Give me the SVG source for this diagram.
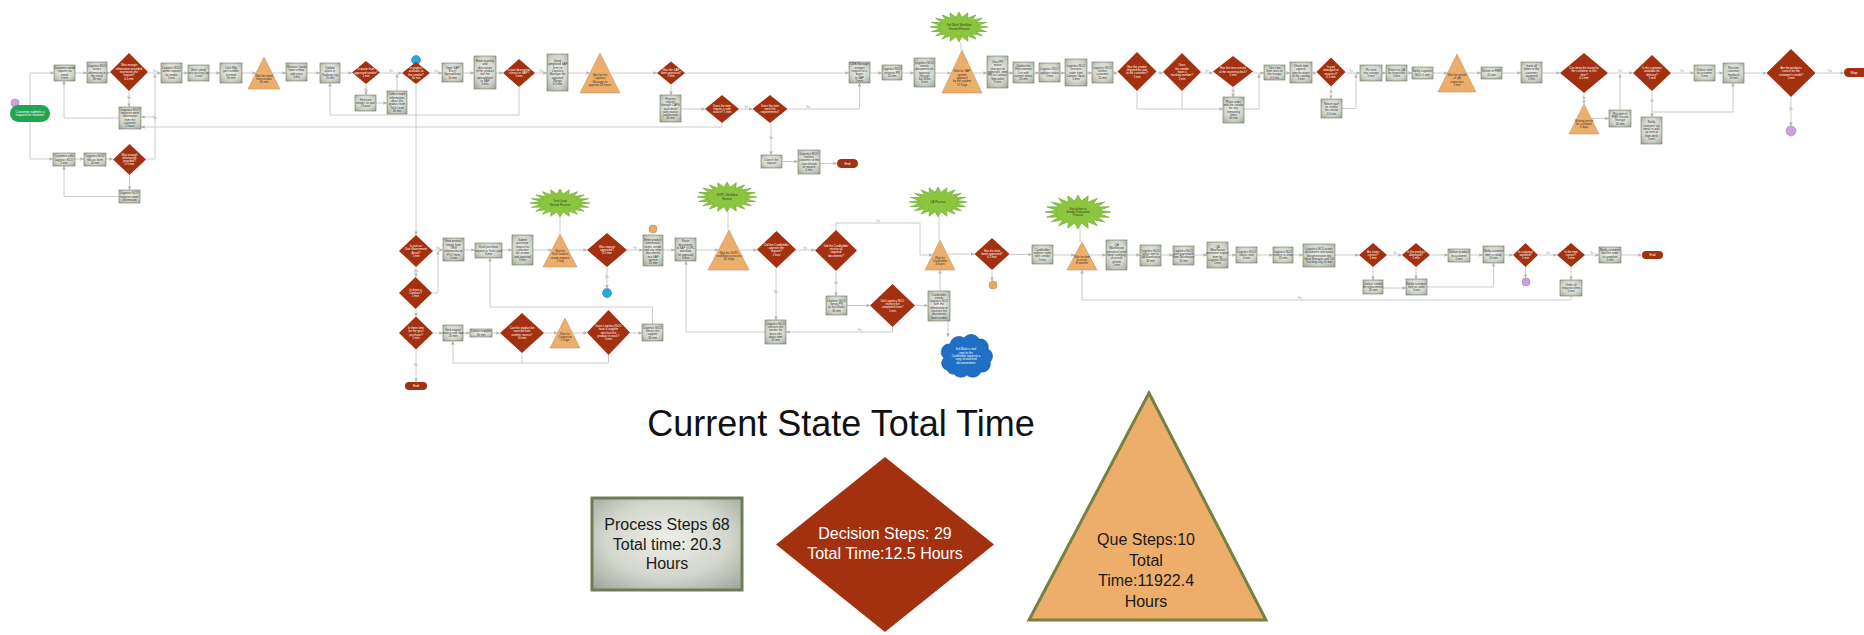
<svg xmlns="http://www.w3.org/2000/svg" xmlns:xlink="http://www.w3.org/1999/xlink" width="1864" height="635" viewBox="0 0 1864 635">
<defs>
<style>
.p{fill:url(#pg);stroke:#6d7a5c;stroke-width:.6}
.d{fill:#a3300f}
.q{fill:#eeae6b;stroke:#b38a58;stroke-width:.5}
.st{fill:#8cc63f;stroke:#6aa22c}
.e{fill:#a3300f}
.t{font-family:"Liberation Sans",Arial,sans-serif;font-size:2.9px;fill:#333;text-anchor:middle}
.w{fill:#fff}
.c{fill:none;stroke:#c6c6c6;stroke-width:.9;marker-end:url(#ah)}
.n{fill:none;stroke:#c6c6c6;stroke-width:.9}
.lbl{font-family:"Liberation Sans",Arial,sans-serif;font-size:2.6px;fill:#9a9a9a;text-anchor:middle}
.lg{font-family:"Liberation Sans",Arial,sans-serif;font-size:16px;text-anchor:middle}
</style>
<radialGradient id="pg" cx=".5" cy=".45" r=".75">
<stop offset="0" stop-color="#eeefea"/>
<stop offset=".55" stop-color="#d3d6cd"/>
<stop offset="1" stop-color="#9ca194"/>
</radialGradient>
<marker id="ah" viewBox="0 0 6 6" refX="6" refY="3" markerWidth="4" markerHeight="4" orient="auto">
<path d="M0,0 L6,3 L0,6z" fill="#b4b4b4"/>
</marker>
<polygon id="star" vector-effect="non-scaling-stroke" stroke-width=".6" points="1,0 .642,.102 .951,.309 .579,.295 .809,.588 .46,.46 .588,.809 .295,.579 .309,.951 .102,.642 0,1 -.102,.642 -.309,.951 -.295,.579 -.588,.809 -.46,.46 -.809,.588 -.579,.295 -.951,.309 -.642,.102 -1,0 -.642,-.102 -.951,-.309 -.579,-.295 -.809,-.588 -.46,-.46 -.588,-.809 -.295,-.579 -.309,-.951 -.102,-.642 0,-1 .102,-.642 .309,-.951 .295,-.579 .588,-.809 .46,-.46 .809,-.588 .579,-.295 .951,-.309 .642,-.102"/>
</defs>
<rect width="1864" height="635" fill="#fff"/>

<!-- connectors -->
<g id="connectors">
<!-- upper flow -->
<path class="c" d="M30,105 V73 H54"/>
<path class="c" d="M30,122 V159 H53"/>
<path class="c" d="M75,73 H87"/>
<path class="c" d="M107,73 H110"/>
<path class="c" d="M148,73 H161"/>
<path class="c" d="M182,73 H188"/>
<path class="c" d="M209,73 H220"/>
<path class="c" d="M242,73 H256"/>
<path class="c" d="M272,73 H286"/>
<path class="c" d="M307,73 H320"/>
<path class="c" d="M340,73 H352"/>
<path class="c" d="M380,73 H402"/>
<path class="c" d="M430,73 H442"/>
<path class="c" d="M463,73 H474"/>
<path class="c" d="M496,73 H503"/>
<path class="c" d="M535,73 H547"/>
<path class="c" d="M568,73 H590"/>
<path class="c" d="M610,73 H657"/>
<path class="c" d="M685,73 H849"/>
<path class="c" d="M870,73 H882"/>
<path class="c" d="M902,73 H914"/>
<path class="c" d="M935,73 H951"/>
<path class="c" d="M973,73 H987"/>
<path class="c" d="M1008,73 H1013"/>
<path class="c" d="M1034,73 H1039"/>
<path class="c" d="M1060,73 H1065"/>
<path class="c" d="M1087,73 H1092"/>
<path class="c" d="M1113,73 H1117.5"/>
<path class="c" d="M1156.5,73 H1163"/>
<path class="c" d="M1201,73 H1213"/>
<path class="c" d="M1253,73 H1264"/>
<path class="c" d="M1285,73 H1290"/>
<path class="c" d="M1312,73 H1316.5"/>
<path class="c" d="M1345.5,73 H1360"/>
<path class="c" d="M1382,73 H1386"/>
<path class="c" d="M1407,73 H1412"/>
<path class="c" d="M1433,73 H1447.5"/>
<path class="c" d="M1466.5,73 H1481"/>
<path class="c" d="M1502,73 H1521"/>
<path class="c" d="M1542,73 H1560"/>
<path class="c" d="M1608,73 H1633"/>
<path class="c" d="M1671,73 H1694"/>
<path class="c" d="M1715,73 H1723"/>
<path class="c" d="M1744,73 H1766.5"/>
<path class="c" d="M1815.5,73 H1844"/>
<path class="c" d="M129,91 V107"/>
<path class="c" d="M119,118 H64 V81"/>
<path class="c" d="M146,159 H155 V74"/>
<path class="c" d="M155,117 H141"/>
<path class="c" d="M722,123 V127 H141"/>
<path class="c" d="M75,159 H84"/>
<path class="c" d="M106,159 H113"/>
<path class="c" d="M129.5,175 V190"/>
<path class="c" d="M119,196.5 H64 V166"/>
<path class="c" d="M366,84 V95"/>
<path class="c" d="M376,103 H387"/>
<path class="c" d="M397,91 V74"/>
<path class="c" d="M416,84 V235"/>
<path class="c" d="M519,87 V115 H330 V83"/>
<path class="c" d="M671,84.5 V95"/>
<path class="c" d="M681,109 H705"/>
<path class="c" d="M739,109 H752.5"/>
<path class="c" d="M787.5,109 H859.5 V83"/>
<path class="c" d="M771,123 V155"/>
<path class="c" d="M782,161.5 H798"/>
<path class="c" d="M820,163.5 H837"/>
<path class="n" d="M961,42 V50"/>
<path class="n" d="M1137,91 V109 H1182 V91"/>
<path class="c" d="M1182,109 H1223"/>
<path class="c" d="M1233,87 V97"/>
<path class="c" d="M1244,109 H1259 V74"/>
<path class="c" d="M1331,86.5 V99"/>
<path class="c" d="M1342,108.5 H1356 V74"/>
<path class="c" d="M1584,93 V104"/>
<path class="c" d="M1591,118.5 H1609"/>
<path class="c" d="M1620,110 V74"/>
<path class="c" d="M1652,91 V117"/>
<path class="c" d="M1652,112 H1733 V83"/>
<path class="c" d="M1791,97 V126"/>
<!-- lower flow -->
<path class="c" d="M416,267 V277"/>
<path class="c" d="M416,309 V316.5"/>
<path class="c" d="M416,349.5 V382"/>
<path class="c" d="M432,293 H438 V251"/>
<path class="c" d="M433,250 H443"/>
<path class="c" d="M464,250 H475"/>
<path class="c" d="M502,250 H512"/>
<path class="c" d="M533,250 H552"/>
<path class="c" d="M568,250 H587"/>
<path class="c" d="M627,250 H643"/>
<path class="c" d="M663,250 H675"/>
<path class="c" d="M696,250 H718.5"/>
<path class="c" d="M739.5,250 H757"/>
<path class="c" d="M796,250 H815"/>
<path class="c" d="M607,267 V288.5"/>
<path class="n" d="M560,217 V234"/>
<path class="n" d="M728,212 V230"/>
<path class="n" d="M939,217 V240"/>
<path class="n" d="M1080,229 V242"/>
<path class="c" d="M765,332 H686 V261"/>
<path class="c" d="M776,268 V320"/>
<path class="c" d="M836,271 V296"/>
<path class="c" d="M847,305.5 H870"/>
<path class="c" d="M915,305.5 H928"/>
<path class="c" d="M892.5,327 V332 H786"/>
<path class="c" d="M940,291 V270"/>
<path class="c" d="M948,321 V337"/>
<path class="c" d="M836,230 V223 H920 V255 H932.5"/>
<path class="c" d="M947.5,254 H974.5"/>
<path class="c" d="M992,270 V281"/>
<path class="c" d="M1009.5,254.5 H1032"/>
<path class="c" d="M1053,255 H1075"/>
<path class="c" d="M1089,255 H1106"/>
<path class="c" d="M1127,255 H1140"/>
<path class="c" d="M1161,255 H1173"/>
<path class="c" d="M1194,255 H1207"/>
<path class="c" d="M1228,255 H1236"/>
<path class="c" d="M1257,255 H1273"/>
<path class="c" d="M1293,255 H1303"/>
<path class="c" d="M1335,255 H1359"/>
<path class="c" d="M1387,255 H1402"/>
<path class="c" d="M1430,255 H1448"/>
<path class="c" d="M1470,255 H1483"/>
<path class="c" d="M1504,255 H1513"/>
<path class="c" d="M1538,255 H1557"/>
<path class="c" d="M1585,255 H1599"/>
<path class="c" d="M1621,255 H1642"/>
<path class="c" d="M1571,296 V300 H1082 V270"/>
<path class="c" d="M1373,267 V280"/>
<path class="c" d="M1383,288 H1406"/>
<path class="c" d="M1416,267 V279"/>
<path class="c" d="M1427,287 H1493.5 V263"/>
<path class="c" d="M1525.5,267 V278"/>
<path class="c" d="M1571,267 V280"/>
<path class="c" d="M433,333 H443"/>
<path class="c" d="M463,333 H470"/>
<path class="c" d="M492,333 H500"/>
<path class="c" d="M544,333 H557.5"/>
<path class="c" d="M572.5,333 H587"/>
<path class="c" d="M630,333 H642"/>
<path class="c" d="M652.5,324 V307 H490 V258"/>
<path class="n" d="M522,353 V363"/>
<path class="c" d="M608.5,355 V363 H453 V341"/>
<!-- branch labels -->
<text class="lbl" x="155" y="72">Yes</text>
<text class="lbl" x="129" y="99">No</text>
<text class="lbl" x="155" y="118.5">No</text>
<text class="lbl" x="391" y="72">Yes</text>
<text class="lbl" x="366" y="91">No</text>
<text class="lbl" x="436" y="72">Yes</text>
<text class="lbl" x="541" y="72">Yes</text>
<text class="lbl" x="808" y="108">No</text>
<text class="lbl" x="746" y="108">Yes</text>
<text class="lbl" x="771" y="139">Yes</text>
<text class="lbl" x="1207" y="72">No</text>
<text class="lbl" x="1233" y="92">No</text>
<text class="lbl" x="1351" y="72">Yes</text>
<text class="lbl" x="1331" y="93">No</text>
<text class="lbl" x="1620" y="72">No</text>
<text class="lbl" x="1584" y="99">No</text>
<text class="lbl" x="1682" y="72">Yes</text>
<text class="lbl" x="1652" y="102">No</text>
<text class="lbl" x="1830" y="72">Yes</text>
<text class="lbl" x="1791" y="110">No</text>
<text class="lbl" x="438" y="249">Yes</text>
<text class="lbl" x="416" y="272">No</text>
<text class="lbl" x="416" y="366">No</text>
<text class="lbl" x="607" y="278">No</text>
<text class="lbl" x="635" y="249">Yes</text>
<text class="lbl" x="805" y="249">Yes</text>
<text class="lbl" x="776" y="293">No</text>
<text class="lbl" x="836" y="284">No</text>
<text class="lbl" x="878" y="222">Yes</text>
<text class="lbl" x="860" y="331">No</text>
<text class="lbl" x="1395" y="254">No</text>
<text class="lbl" x="1548" y="254">Yes</text>
<text class="lbl" x="1592" y="254">Yes</text>
<text class="lbl" x="522" y="332">No</text>
<text class="lbl" x="1300" y="299">No</text>
</g>

<!-- upper process row -->
<g id="start"><circle cx="15" cy="103" r="4" fill="#c9a3da" stroke="#a47cc0" stroke-width=".6"/><rect x="10" y="105" width="40" height="17" rx="8.5" fill="#1fa650"/><text class="t w" x="30" y="112.6" style="font-size:3.3px"><tspan x="30">Customer submits a</tspan><tspan x="30" dy="3.8">request for fastener</tspan></text></g>
<g id="n1"><rect class="p" x="54" y="65" width="21" height="16"/><text class="t" x="64.5" y="69"><tspan x="64.5">Customer sends</tspan><tspan x="64.5" dy="3.3">request via</tspan><tspan x="64.5" dy="3.3">email</tspan><tspan x="64.5" dy="3.3">5 min</tspan></text></g>
<g id="n2"><rect class="p" x="87" y="62" width="20" height="21"/><text class="t" x="97" y="66.9"><tspan x="97">Logistics NCO</tspan><tspan x="97" dy="3.3">enters</tspan><tspan x="97" dy="3.3">information in</tspan><tspan x="97" dy="3.3">the email</tspan><tspan x="97" dy="3.3">30 min</tspan></text></g>
<g id="d1"><polygon class="d" points="129,53 148,72 129,91 110,72"/><text class="t w" x="129" y="66.4"><tspan x="129">Was enough</tspan><tspan x="129" dy="3.3">information provided</tspan><tspan x="129" dy="3.3">to process the</tspan><tspan x="129" dy="3.3">request?</tspan><tspan x="129" dy="3.3">0.5 min</tspan></text></g>
<g id="n3"><rect class="p" x="119" y="107" width="22" height="22"/><text class="t" x="130" y="110.8"><tspan x="130">Logistics NCO</tspan><tspan x="130" dy="3.3">requests more</tspan><tspan x="130" dy="3.3">information</tspan><tspan x="130" dy="3.3">from the</tspan><tspan x="130" dy="3.3">customer</tspan><tspan x="130" dy="3.3">2 hours</tspan></text></g>
<g id="n4"><rect class="p" x="53" y="153" width="22" height="13"/><text class="t" x="64" y="157.2"><tspan x="64">Customer calls</tspan><tspan x="64" dy="3.3">Logistics NCO</tspan><tspan x="64" dy="3.3">5 min</tspan></text></g>
<g id="n5"><rect class="p" x="84" y="153" width="22" height="13"/><text class="t" x="95" y="157.2"><tspan x="95">Logistics NCO</tspan><tspan x="95" dy="3.3">fills out form</tspan><tspan x="95" dy="3.3">10 min</tspan></text></g>
<g id="d2"><polygon class="d" points="129.5,144 146,159.5 129.5,175 113,159.5"/><text class="t w" x="129.5" y="155.5"><tspan x="129.5">Was enough</tspan><tspan x="129.5" dy="3.3">information</tspan><tspan x="129.5" dy="3.3">provided?</tspan><tspan x="129.5" dy="3.3">0.5 min</tspan></text></g>
<g id="n6"><rect class="p" x="119" y="190" width="21" height="13"/><text class="t" x="129.5" y="194.2"><tspan x="129.5">Logistics NCO</tspan><tspan x="129.5" dy="3.3">requests more</tspan><tspan x="129.5" dy="3.3">information</tspan></text></g>
<g id="n7"><rect class="p" x="161" y="63" width="21" height="20"/><text class="t" x="171.5" y="69"><tspan x="171.5">Logistics NCO</tspan><tspan x="171.5" dy="3.3">sends request</tspan><tspan x="171.5" dy="3.3">to vendor</tspan><tspan x="171.5" dy="3.3">5 min</tspan></text></g>
<g id="n8"><rect class="p" x="188" y="65" width="21" height="16"/><text class="t" x="198.5" y="70.7"><tspan x="198.5">Enter email</tspan><tspan x="198.5" dy="3.3">into tracking log</tspan><tspan x="198.5" dy="3.3">1 min</tspan></text></g>
<g id="n9"><rect class="p" x="220" y="63" width="22" height="20"/><text class="t" x="231" y="69"><tspan x="231">Click Mfg</tspan><tspan x="231" dy="3.3">part number</tspan><tspan x="231" dy="3.3">in email</tspan><tspan x="231" dy="3.3">20 min</tspan></text></g>
<g id="q1"><polygon class="q" points="264,57 280,89 248,89"/><text class="t" x="264" y="76.7"><tspan x="264">Wait for email</tspan><tspan x="264" dy="3.3">from vendor</tspan><tspan x="264" dy="3.3">60 min</tspan></text></g>
<g id="n10"><rect class="p" x="286" y="63" width="21" height="18"/><text class="t" x="296.5" y="68"><tspan x="296.5">Receive Quote</tspan><tspan x="296.5" dy="3.3">from vendor</tspan><tspan x="296.5" dy="3.3">with price</tspan><tspan x="296.5" dy="3.3">5 min</tspan></text></g>
<g id="n11"><rect class="p" x="320" y="63" width="20" height="20"/><text class="t" x="330" y="69"><tspan x="330">Update</tspan><tspan x="330" dy="3.3">quote in</tspan><tspan x="330" dy="3.3">Tracking Log</tspan><tspan x="330" dy="3.3">15 min</tspan></text></g>
<g id="d3"><polygon class="d" points="366,61 380,72.5 366,84 352,72.5"/><text class="t w" x="366" y="70.2"><tspan x="366">Is quote from</tspan><tspan x="366" dy="3.3">approved vendor?</tspan><tspan x="366" dy="3.3">1 min</tspan></text></g>
<g id="n12"><rect class="p" x="355" y="95" width="21" height="16"/><text class="t" x="365.5" y="100.7"><tspan x="365.5">Find new</tspan><tspan x="365.5" dy="3.3">vendor for part</tspan><tspan x="365.5" dy="3.3">2 hours</tspan></text></g>
<g id="n13"><rect class="p" x="387" y="91" width="20" height="23"/><text class="t" x="397" y="95.3"><tspan x="397">Collect more</tspan><tspan x="397" dy="3.3">information</tspan><tspan x="397" dy="3.3">about the</tspan><tspan x="397" dy="3.3">product from</tspan><tspan x="397" dy="3.3">Tech Lead</tspan><tspan x="397" dy="3.3">30 min</tspan></text></g>
<g id="d4"><circle cx="416" cy="60" r="4.5" fill="#2aa7df" stroke="#1b88c0" stroke-width=".6"/><polygon class="d" points="416,62 430,73 416,84 402,73"/><text class="t w" x="416" y="69"><tspan x="416">Is product</tspan><tspan x="416" dy="3.3">available at</tspan><tspan x="416" dy="3.3">the vendor?</tspan><tspan x="416" dy="3.3">30 min</tspan></text></g>
<g id="n14"><rect class="p" x="442" y="63" width="21" height="19"/><text class="t" x="452.5" y="68.6"><tspan x="452.5">Open SAP</tspan><tspan x="452.5" dy="3.3">Excel</tspan><tspan x="452.5" dy="3.3">Spreadsheet</tspan><tspan x="452.5" dy="3.3">10 min</tspan></text></g>
<g id="n15"><rect class="p" x="474" y="56" width="22" height="33"/><text class="t" x="485" y="62"><tspan x="485">Enter quantity</tspan><tspan x="485" dy="3.3">and</tspan><tspan x="485" dy="3.3">description</tspan><tspan x="485" dy="3.3">of the product</tspan><tspan x="485" dy="3.3">into the</tspan><tspan x="485" dy="3.3">spreadsheet</tspan><tspan x="485" dy="3.3">in SAP</tspan><tspan x="485" dy="3.3">5 min</tspan></text></g>
<g id="d5"><polygon class="d" points="519,59 535,73 519,87 503,73"/><text class="t w" x="519" y="70.7"><tspan x="519">Is part description</tspan><tspan x="519" dy="3.3">correct in SAP?</tspan><tspan x="519" dy="3.3">5 min</tspan></text></g>
<g id="n16"><rect class="p" x="547" y="54" width="21" height="37"/><text class="t" x="557.5" y="62"><tspan x="557.5">Send</tspan><tspan x="557.5" dy="3.3">completed SAP</tspan><tspan x="557.5" dy="3.3">form to</tspan><tspan x="557.5" dy="3.3">Logistics</tspan><tspan x="557.5" dy="3.3">Manager for</tspan><tspan x="557.5" dy="3.3">approval</tspan><tspan x="557.5" dy="3.3">Range</tspan><tspan x="557.5" dy="3.3">0.5 min</tspan></text></g>
<g id="q2"><polygon class="q" points="600,53 620,93 580,93"/><text class="t" x="600" y="76"><tspan x="600">Wait for the</tspan><tspan x="600" dy="3.3">Logistics</tspan><tspan x="600" dy="3.3">Manager to</tspan><tspan x="600" dy="3.3">approve 24 hours</tspan></text></g>
<g id="d6"><polygon class="d" points="671,61.5 685,73 671,84.5 657,73"/><text class="t w" x="671" y="70.7"><tspan x="671">Was the SAP</tspan><tspan x="671" dy="3.3">form approved?</tspan><tspan x="671" dy="3.3">1 min</tspan></text></g>
<g id="n17"><rect class="p" x="660" y="95" width="21" height="27"/><text class="t" x="670.5" y="99.6"><tspan x="670.5">Process</tspan><tspan x="670.5" dy="3.3">request</tspan><tspan x="670.5" dy="3.3">through CAPS</tspan><tspan x="670.5" dy="3.3">and obtain</tspan><tspan x="670.5" dy="3.3">sole source</tspan><tspan x="670.5" dy="3.3">justification</tspan><tspan x="670.5" dy="3.3">30 min</tspan></text></g>
<g id="d7"><polygon class="d" points="722,95 739,109 722,123 705,109"/><text class="t w" x="722" y="106.7"><tspan x="722">Does the item</tspan><tspan x="722" dy="3.3">require a sole</tspan><tspan x="722" dy="3.3">source? 1 min</tspan></text></g>
<g id="d8"><polygon class="d" points="770,95 787.5,109 770,123 752.5,109"/><text class="t w" x="770" y="106.7"><tspan x="770">Does the item</tspan><tspan x="770" dy="3.3">meet the</tspan><tspan x="770" dy="3.3">requirements?</tspan></text></g>
<g id="n18"><rect class="p" x="761" y="155" width="21" height="13"/><text class="t" x="771.5" y="160.9"><tspan x="771.5">Cancel the</tspan><tspan x="771.5" dy="3.3">request</tspan></text></g>
<g id="n19"><rect class="p" x="798" y="150" width="22" height="24"/><text class="t" x="809" y="154.8"><tspan x="809">Logistics NCO</tspan><tspan x="809" dy="3.3">notifies</tspan><tspan x="809" dy="3.3">customer of the</tspan><tspan x="809" dy="3.3">cancellation</tspan><tspan x="809" dy="3.3">of request</tspan><tspan x="809" dy="3.3">5 min</tspan></text></g>
<g id="end1"><rect class="e" x="837" y="159" width="21" height="9" rx="4.5"/><text class="t w" x="847.5" y="164.8" style="font-size:3.4px">End</text></g>
<g id="n20"><rect class="p" x="849" y="62" width="21" height="21"/><text class="t" x="859.5" y="65.3"><tspan x="859.5">CMB Manager</tspan><tspan x="859.5" dy="3.3">assigns</tspan><tspan x="859.5" dy="3.3">request to a</tspan><tspan x="859.5" dy="3.3">buyer</tspan><tspan x="859.5" dy="3.3">in SAP</tspan><tspan x="859.5" dy="3.3">5 min</tspan></text></g>
<g id="n21"><rect class="p" x="882" y="65" width="20" height="15"/><text class="t" x="892" y="70.2"><tspan x="892">Logistics NCO</tspan><tspan x="892" dy="3.3">receives PR</tspan><tspan x="892" dy="3.3">10 min</tspan></text></g>
<g id="n22"><rect class="p" x="914" y="58" width="21" height="29"/><text class="t" x="924.5" y="63.6"><tspan x="924.5">Logistics NCO</tspan><tspan x="924.5" dy="3.3">emails</tspan><tspan x="924.5" dy="3.3">documents for</tspan><tspan x="924.5" dy="3.3">approval</tspan><tspan x="924.5" dy="3.3">through</tspan><tspan x="924.5" dy="3.3">Sol-Work</tspan><tspan x="924.5" dy="3.3">5 min</tspan></text></g>
<g id="s1"><use xlink:href="#star" class="st" transform="translate(959,27) scale(29,15)"/><text class="t" x="959" y="26.4"><tspan x="959">Sol-Work Workflow</tspan><tspan x="959" dy="3.3">Review Process</tspan></text></g>
<g id="q3"><polygon class="q" points="962,50 982,93 942,93"/><text class="t" x="962" y="72.4"><tspan x="962">Wait for SAP</tspan><tspan x="962" dy="3.3">system</tspan><tspan x="962" dy="3.3">approval</tspan><tspan x="962" dy="3.3">by the system</tspan><tspan x="962" dy="3.3">72 Days</tspan></text></g>
<g id="n23"><rect class="p" x="987" y="56" width="21" height="32"/><text class="t" x="997.5" y="63.1"><tspan x="997.5">Once PR</tspan><tspan x="997.5" dy="3.3">status</tspan><tspan x="997.5" dy="3.3">changes to</tspan><tspan x="997.5" dy="3.3">approved, send</tspan><tspan x="997.5" dy="3.3">PR to Contract</tspan><tspan x="997.5" dy="3.3">Specialist</tspan><tspan x="997.5" dy="3.3">5 min</tspan></text></g>
<g id="n24"><rect class="p" x="1013" y="62" width="21" height="21"/><text class="t" x="1023.5" y="66.9"><tspan x="1023.5">Update the</tspan><tspan x="1023.5" dy="3.3">Procurement</tspan><tspan x="1023.5" dy="3.3">List with</tspan><tspan x="1023.5" dy="3.3">current status</tspan><tspan x="1023.5" dy="3.3">20 min</tspan></text></g>
<g id="n25"><rect class="p" x="1039" y="63" width="21" height="19"/><text class="t" x="1049.5" y="70.2"><tspan x="1049.5">Logistics NCO</tspan><tspan x="1049.5" dy="3.3">updates status</tspan><tspan x="1049.5" dy="3.3">5 min</tspan></text></g>
<g id="n26"><rect class="p" x="1065" y="59" width="22" height="27"/><text class="t" x="1076" y="66.9"><tspan x="1076">Logistics NCO</tspan><tspan x="1076" dy="3.3">receives</tspan><tspan x="1076" dy="3.3">order from</tspan><tspan x="1076" dy="3.3">Contract Spec.</tspan><tspan x="1076" dy="3.3">5 min</tspan></text></g>
<g id="n27"><rect class="p" x="1092" y="62" width="21" height="21"/><text class="t" x="1102.5" y="68.6"><tspan x="1102.5">Logistics NCO</tspan><tspan x="1102.5" dy="3.3">notifies</tspan><tspan x="1102.5" dy="3.3">customer</tspan><tspan x="1102.5" dy="3.3">15 min</tspan></text></g>
<g id="d9"><polygon class="d" points="1137,52 1156.5,71.5 1137,91 1117.5,71.5"/><text class="t w" x="1137" y="67.6"><tspan x="1137">Has the vendor</tspan><tspan x="1137" dy="3.3">shipped the part</tspan><tspan x="1137" dy="3.3">to the customer?</tspan><tspan x="1137" dy="3.3">1 min</tspan></text></g>
<g id="d10"><polygon class="d" points="1182,53 1201,72 1182,91 1163,72"/><text class="t w" x="1182" y="66.4"><tspan x="1182">Does</tspan><tspan x="1182" dy="3.3">the vendor</tspan><tspan x="1182" dy="3.3">have a</tspan><tspan x="1182" dy="3.3">tracking number?</tspan><tspan x="1182" dy="3.3">1 min</tspan></text></g>
<g id="d11"><polygon class="d" points="1233,56 1253,71.5 1233,87 1213,71.5"/><text class="t w" x="1233" y="69.2"><tspan x="1233">Has the item arrived</tspan><tspan x="1233" dy="3.3">at the receiving dock?</tspan><tspan x="1233" dy="3.3">1 min</tspan></text></g>
<g id="n28"><rect class="p" x="1223" y="97" width="21" height="26"/><text class="t" x="1233.5" y="102.8"><tspan x="1233.5">Place order</tspan><tspan x="1233.5" dy="3.3">with the vendor</tspan><tspan x="1233.5" dy="3.3">for any</tspan><tspan x="1233.5" dy="3.3">remaining</tspan><tspan x="1233.5" dy="3.3">items</tspan><tspan x="1233.5" dy="3.3">60 min</tspan></text></g>
<g id="n29"><rect class="p" x="1264" y="65" width="21" height="15"/><text class="t" x="1274.5" y="68.6"><tspan x="1274.5">Take item</tspan><tspan x="1274.5" dy="3.3">from dock to</tspan><tspan x="1274.5" dy="3.3">the hangar</tspan><tspan x="1274.5" dy="3.3">2.5 hrs</tspan></text></g>
<g id="n30"><rect class="p" x="1290" y="62" width="22" height="21"/><text class="t" x="1301" y="66.9"><tspan x="1301">Check item</tspan><tspan x="1301" dy="3.3">against</tspan><tspan x="1301" dy="3.3">specifications</tspan><tspan x="1301" dy="3.3">in the catalog</tspan><tspan x="1301" dy="3.3">5 min</tspan></text></g>
<g id="d12"><polygon class="d" points="1331,57.5 1345.5,72 1331,86.5 1316.5,72"/><text class="t w" x="1331" y="68.1"><tspan x="1331">Is part</tspan><tspan x="1331" dy="3.3">damaged or</tspan><tspan x="1331" dy="3.3">incorrect?</tspan><tspan x="1331" dy="3.3">0.5 min</tspan></text></g>
<g id="n31"><rect class="p" x="1321" y="99" width="21" height="19"/><text class="t" x="1331.5" y="104.6"><tspan x="1331.5">Return part</tspan><tspan x="1331.5" dy="3.3">to vendor</tspan><tspan x="1331.5" dy="3.3">for refund</tspan><tspan x="1331.5" dy="3.3">0.5 min</tspan></text></g>
<g id="n32"><rect class="p" x="1360" y="65" width="22" height="16"/><text class="t" x="1371" y="70.7"><tspan x="1371">Put item</tspan><tspan x="1371" dy="3.3">into storage</tspan><tspan x="1371" dy="3.3">5 min</tspan></text></g>
<g id="n33"><rect class="p" x="1386" y="65" width="21" height="16"/><text class="t" x="1396.5" y="70.7"><tspan x="1396.5">Return to QA</tspan><tspan x="1396.5" dy="3.3">for inspection</tspan><tspan x="1396.5" dy="3.3">5 min</tspan></text></g>
<g id="n34"><rect class="p" x="1412" y="67" width="21" height="12"/><text class="t" x="1422.5" y="72.4"><tspan x="1422.5">Notify Logistics</tspan><tspan x="1422.5" dy="3.3">NCO 1 min</tspan></text></g>
<g id="q4"><polygon class="q" points="1457,54 1476,92 1438,92"/><text class="t" x="1457" y="76"><tspan x="1457">Wait for results</tspan><tspan x="1457" dy="3.3">of QA</tspan><tspan x="1457" dy="3.3">inspection</tspan><tspan x="1457" dy="3.3">5 min</tspan></text></g>
<g id="n35"><rect class="p" x="1481" y="67" width="21" height="12"/><text class="t" x="1491.5" y="72.4"><tspan x="1491.5">Return to PMR</tspan><tspan x="1491.5" dy="3.3">20 min</tspan></text></g>
<g id="n36"><rect class="p" x="1521" y="62" width="21" height="21"/><text class="t" x="1531.5" y="66.9"><tspan x="1531.5">Issue all</tspan><tspan x="1531.5" dy="3.3">items to the</tspan><tspan x="1531.5" dy="3.3">customer</tspan><tspan x="1531.5" dy="3.3">assigned</tspan><tspan x="1531.5" dy="3.3">5 min</tspan></text></g>
<g id="d13"><polygon class="d" points="1584,53 1608,73 1584,93 1560,73"/><text class="t w" x="1584" y="69"><tspan x="1584">Can items be issued to</tspan><tspan x="1584" dy="3.3">the customer at this</tspan><tspan x="1584" dy="3.3">time?</tspan><tspan x="1584" dy="3.3">0.5 min</tspan></text></g>
<g id="q5"><polygon class="q" points="1584,104 1599,134 1569,134"/><text class="t" x="1584" y="121.7"><tspan x="1584">Waiting period</tspan><tspan x="1584" dy="3.3">for customer</tspan><tspan x="1584" dy="3.3">3 days</tspan></text></g>
<g id="n37"><rect class="p" x="1609" y="110" width="22" height="17"/><text class="t" x="1620" y="114.6"><tspan x="1620">Put item in</tspan><tspan x="1620" dy="3.3">PMR Secure</tspan><tspan x="1620" dy="3.3">Storage</tspan><tspan x="1620" dy="3.3">10 min</tspan></text></g>
<g id="d14"><polygon class="d" points="1652,55 1671,73 1652,91 1633,73"/><text class="t w" x="1652" y="69"><tspan x="1652">Is the customer</tspan><tspan x="1652" dy="3.3">available for</tspan><tspan x="1652" dy="3.3">delivery?</tspan><tspan x="1652" dy="3.3">1 min</tspan></text></g>
<g id="n38"><rect class="p" x="1641" y="117" width="21" height="27"/><text class="t" x="1651.5" y="123.3"><tspan x="1651.5">Notify</tspan><tspan x="1651.5" dy="3.3">customer via</tspan><tspan x="1651.5" dy="3.3">email to pick</tspan><tspan x="1651.5" dy="3.3">up item at</tspan><tspan x="1651.5" dy="3.3">front desk</tspan><tspan x="1651.5" dy="3.3">5 min</tspan></text></g>
<g id="n39"><rect class="p" x="1694" y="65" width="21" height="16"/><text class="t" x="1704.5" y="70.7"><tspan x="1704.5">Deliver item</tspan><tspan x="1704.5" dy="3.3">to customer</tspan><tspan x="1704.5" dy="3.3">5 min</tspan></text></g>
<g id="n40"><rect class="p" x="1723" y="63" width="21" height="20"/><text class="t" x="1733.5" y="69"><tspan x="1733.5">Receive</tspan><tspan x="1733.5" dy="3.3">customer</tspan><tspan x="1733.5" dy="3.3">feedback</tspan><tspan x="1733.5" dy="3.3">10 min</tspan></text></g>
<g id="d15"><polygon class="d" points="1791,49 1815.5,73 1791,97 1766.5,73"/><text class="t w" x="1791" y="69"><tspan x="1791">Are the products</tspan><tspan x="1791" dy="3.3">correct for the</tspan><tspan x="1791" dy="3.3">customer's needs?</tspan><tspan x="1791" dy="3.3">1 min</tspan></text></g>
<g id="c1"><circle cx="1791" cy="131" r="5" fill="#c9a3da" stroke="#a47cc0" stroke-width=".6"/></g>
<g id="stop"><rect class="e" x="1844" y="68" width="24" height="9" rx="4.5"/><text class="t w" x="1854" y="73.8" style="font-size:3.4px">Stop</text></g>

<!-- lower process rows -->
<g id="d16"><polygon class="d" points="416,235 433,251 416,267 399,251"/><text class="t w" x="416" y="247"><tspan x="416">Is part an</tspan><tspan x="416" dy="3.3">Unit Government</tspan><tspan x="416" dy="3.3">Asset?</tspan><tspan x="416" dy="3.3">1 min</tspan></text></g>
<g id="d17"><polygon class="d" points="415.5,277 432,293 415.5,309 399,293"/><text class="t w" x="415.5" y="290.7"><tspan x="415.5">Is there a</tspan><tspan x="415.5" dy="3.3">Contract?</tspan><tspan x="415.5" dy="3.3">1 min</tspan></text></g>
<g id="d18"><polygon class="d" points="416,316.5 433,333 416,349.5 399,333"/><text class="t w" x="416" y="329"><tspan x="416">Is there time</tspan><tspan x="416" dy="3.3">for the gov't</tspan><tspan x="416" dy="3.3">purchase?</tspan><tspan x="416" dy="3.3">1 min</tspan></text></g>
<g id="end2"><rect class="e" x="405" y="382" width="22" height="8" rx="4"/><text class="t w" x="416" y="387.2" style="font-size:3.4px">End</text></g>
<g id="n41"><rect class="p" x="443" y="238" width="21" height="23"/><text class="t" x="453.5" y="242.3"><tspan x="453.5">Find product</tspan><tspan x="453.5" dy="3.3">image from</tspan><tspan x="453.5" dy="3.3">OEM</tspan><tspan x="453.5" dy="3.3">information on</tspan><tspan x="453.5" dy="3.3">PCO form</tspan><tspan x="453.5" dy="3.3">1 min</tspan></text></g>
<g id="n42"><rect class="p" x="475" y="243" width="27" height="15"/><text class="t" x="488.5" y="248.2"><tspan x="488.5">Draft purchase</tspan><tspan x="488.5" dy="3.3">request to Tech Lead</tspan><tspan x="488.5" dy="3.3">5 min</tspan></text></g>
<g id="n43"><rect class="p" x="512" y="235" width="21" height="30"/><text class="t" x="522.5" y="241.1"><tspan x="522.5">Submit</tspan><tspan x="522.5" dy="3.3">purchase</tspan><tspan x="522.5" dy="3.3">request to</tspan><tspan x="522.5" dy="3.3">customer</tspan><tspan x="522.5" dy="3.3">for review</tspan><tspan x="522.5" dy="3.3">and approval</tspan><tspan x="522.5" dy="3.3">5 min</tspan></text></g>
<g id="s2"><use xlink:href="#star" class="st" transform="translate(560,203) scale(30,14)"/><text class="t" x="560" y="202.4"><tspan x="560">Tech Lead</tspan><tspan x="560" dy="3.3">Review Process</tspan></text></g>
<g id="q6"><polygon class="q" points="560,234 577,267 543,267"/><text class="t" x="560" y="252"><tspan x="560">Wait for</tspan><tspan x="560" dy="3.3">Tech Lead to</tspan><tspan x="560" dy="3.3">review request</tspan><tspan x="560" dy="3.3">1 Day</tspan></text></g>
<g id="d19"><polygon class="d" points="607,233 627,250 607,267 587,250"/><text class="t w" x="607" y="247.7"><tspan x="607">Was request</tspan><tspan x="607" dy="3.3">approved?</tspan><tspan x="607" dy="3.3">0.5 min</tspan></text></g>
<g id="c2"><circle cx="607" cy="293" r="4.5" fill="#2aa7df" stroke="#1b88c0" stroke-width=".6"/></g>
<g id="n44"><circle cx="653" cy="229" r="4" fill="#eaa868" stroke="#c48a52" stroke-width=".6"/><rect class="p" x="643" y="235" width="20" height="31"/><text class="t" x="653" y="241"><tspan x="653">Enter product</tspan><tspan x="653" dy="3.3">information,</tspan><tspan x="653" dy="3.3">costs, vendor</tspan><tspan x="653" dy="3.3">and any other</tspan><tspan x="653" dy="3.3">documents</tspan><tspan x="653" dy="3.3">into SAP</tspan><tspan x="653" dy="3.3">system</tspan><tspan x="653" dy="3.3">15 min</tspan></text></g>
<g id="n45"><rect class="p" x="675" y="238" width="21" height="23"/><text class="t" x="685.5" y="242.3"><tspan x="685.5">Route</tspan><tspan x="685.5" dy="3.3">documents</tspan><tspan x="685.5" dy="3.3">to SAP GCPC</tspan><tspan x="685.5" dy="3.3">workflow</tspan><tspan x="685.5" dy="3.3">for approval</tspan><tspan x="685.5" dy="3.3">5 min</tspan></text></g>
<g id="s3"><use xlink:href="#star" class="st" transform="translate(727,197) scale(30,15)"/><text class="t" x="727" y="196.4"><tspan x="727">GCPC Workflow</tspan><tspan x="727" dy="3.3">Review</tspan></text></g>
<g id="q7"><polygon class="q" points="729,230 749,270 708,270"/><text class="t" x="729" y="253.7"><tspan x="729">Wait for GCPC</tspan><tspan x="729" dy="3.3">workflow to process</tspan><tspan x="729" dy="3.3">41 Days</tspan></text></g>
<g id="d20"><polygon class="d" points="776.5,231 796,249.5 776.5,268 757,249.5"/><text class="t w" x="776.5" y="245.6"><tspan x="776.5">Did the Cardholder</tspan><tspan x="776.5" dy="3.3">approve the</tspan><tspan x="776.5" dy="3.3">request?</tspan><tspan x="776.5" dy="3.3">1 hour</tspan></text></g>
<g id="d21"><polygon class="d" points="836,230 857,250.5 836,271 815,250.5"/><text class="t w" x="836" y="246.6"><tspan x="836">Did the Cardholder</tspan><tspan x="836" dy="3.3">receive all</tspan><tspan x="836" dy="3.3">required</tspan><tspan x="836" dy="3.3">documents?</tspan></text></g>
<g id="n46"><rect class="p" x="826" y="296" width="21" height="19"/><text class="t" x="836.5" y="301.6"><tspan x="836.5">Logistics NCO</tspan><tspan x="836.5" dy="3.3">sends PR</tspan><tspan x="836.5" dy="3.3">to Sol-Works</tspan><tspan x="836.5" dy="3.3">30 min</tspan></text></g>
<g id="d22"><polygon class="d" points="892.5,284 915,305.5 892.5,327 870,305.5"/><text class="t w" x="892.5" y="301.6"><tspan x="892.5">Did Logistics NCO</tspan><tspan x="892.5" dy="3.3">receive the</tspan><tspan x="892.5" dy="3.3">completed form?</tspan><tspan x="892.5" dy="3.3">1 min</tspan></text></g>
<g id="n47"><rect class="p" x="928" y="291" width="22" height="30"/><text class="t" x="939" y="295.5"><tspan x="939">Cardholder</tspan><tspan x="939" dy="3.3">emails</tspan><tspan x="939" dy="3.3">Logistics NCO</tspan><tspan x="939" dy="3.3">with the</tspan><tspan x="939" dy="3.3">information or</tspan><tspan x="939" dy="3.3">receives the</tspan><tspan x="939" dy="3.3">documents</tspan><tspan x="939" dy="3.3">from vendor</tspan></text></g>
<g id="cloud"><path d="M947,370 a7,7 0 0 1 -3,-12 a8,8 0 0 1 6,-14 a9,9 0 0 1 14,-6 a9,9 0 0 1 15,1 a8,8 0 0 1 9,10 a8,8 0 0 1 2,13 a8,8 0 0 1 -9,10 a9,9 0 0 1 -14,3 a9,9 0 0 1 -13,-1 a7,7 0 0 1 -7,-4 z" fill="#1f6fc5" stroke="#17509a" stroke-width=".6"/><text class="t w" x="966" y="350.4"><tspan x="966">Sol-Work e-mail</tspan><tspan x="966" dy="3.3">sent to the</tspan><tspan x="966" dy="3.3">Cardholder requests a</tspan><tspan x="966" dy="3.3">copy of attached</tspan><tspan x="966" dy="3.3">documentation</tspan></text></g>
<g id="s4"><use xlink:href="#star" class="st" transform="translate(938,202) scale(29,15)"/><text class="t" x="938" y="203">QA Process</text></g>
<g id="q8"><polygon class="q" points="940,240 955,270 925,270"/><text class="t" x="940" y="258.7"><tspan x="940">Wait for</tspan><tspan x="940" dy="3.3">Cardholder</tspan><tspan x="940" dy="3.3">4 hours</tspan></text></g>
<g id="d23"><polygon class="d" points="992,238 1009.5,254 992,270 974.5,254"/><text class="t w" x="992" y="251.7"><tspan x="992">Has the item</tspan><tspan x="992" dy="3.3">been approved?</tspan><tspan x="992" dy="3.3">0.5 min</tspan></text></g>
<g id="c3"><circle cx="993" cy="285" r="4" fill="#eaa868" stroke="#c48a52" stroke-width=".6"/></g>
<g id="n48"><rect class="p" x="765" y="320" width="21" height="24"/><text class="t" x="775.5" y="324.8"><tspan x="775.5">Logistics NCO</tspan><tspan x="775.5" dy="3.3">contacts the</tspan><tspan x="775.5" dy="3.3">vendor for</tspan><tspan x="775.5" dy="3.3">more info</tspan><tspan x="775.5" dy="3.3">about item</tspan><tspan x="775.5" dy="3.3">15 min</tspan></text></g>
<g id="n49"><rect class="p" x="443" y="325" width="20" height="16"/><text class="t" x="453" y="330.7"><tspan x="453">Find original</tspan><tspan x="453" dy="3.3">source and reqs</tspan><tspan x="453" dy="3.3">20 min</tspan></text></g>
<g id="n50"><rect class="p" x="470" y="329" width="22" height="8"/><text class="t" x="481" y="332.4"><tspan x="481">Contact supplier</tspan><tspan x="481" dy="3.3">20 min</tspan></text></g>
<g id="d24"><polygon class="d" points="522,313 544,333 522,353 500,333"/><text class="t w" x="522" y="329"><tspan x="522">Can the product be</tspan><tspan x="522" dy="3.3">sourced from</tspan><tspan x="522" dy="3.3">another source?</tspan><tspan x="522" dy="3.3">10 min</tspan></text></g>
<g id="q9"><polygon class="q" points="565,318 580,348 550,348"/><text class="t" x="565" y="334.7"><tspan x="565">Wait for</tspan><tspan x="565" dy="3.3">Contractor</tspan><tspan x="565" dy="3.3">2 Days</tspan></text></g>
<g id="d25"><polygon class="d" points="608.5,310 630,332.5 608.5,355 587,332.5"/><text class="t w" x="608.5" y="326.9"><tspan x="608.5">Does Logistics NCO</tspan><tspan x="608.5" dy="3.3">have a supplier</tspan><tspan x="608.5" dy="3.3">who has the</tspan><tspan x="608.5" dy="3.3">product in stock?</tspan><tspan x="608.5" dy="3.3">5 min</tspan></text></g>
<g id="n51"><rect class="p" x="642" y="324" width="21" height="17"/><text class="t" x="652.5" y="328.6"><tspan x="652.5">Logistics NCO</tspan><tspan x="652.5" dy="3.3">emails the</tspan><tspan x="652.5" dy="3.3">supplier</tspan><tspan x="652.5" dy="3.3">30 min</tspan></text></g>
<g id="n52"><rect class="p" x="1032" y="245" width="21" height="19"/><text class="t" x="1042.5" y="250.6"><tspan x="1042.5">Cardholder</tspan><tspan x="1042.5" dy="3.3">submits order</tspan><tspan x="1042.5" dy="3.3">with vendor</tspan><tspan x="1042.5" dy="3.3">5 min</tspan></text></g>
<g id="s5"><use xlink:href="#star" class="st" transform="translate(1078,212) scale(33,17)"/><text class="t" x="1078" y="209.7"><tspan x="1078">Escalation to</tspan><tspan x="1078" dy="3.3">Vendor Evaluation</tspan><tspan x="1078" dy="3.3">Process</tspan></text></g>
<g id="q10"><polygon class="q" points="1082,242 1097,270 1067,270"/><text class="t" x="1082" y="257.7"><tspan x="1082">Wait for item</tspan><tspan x="1082" dy="3.3">to arrive</tspan><tspan x="1082" dy="3.3">8 months</tspan></text></g>
<g id="n53"><rect class="p" x="1106" y="240" width="21" height="30"/><text class="t" x="1116.5" y="246.1"><tspan x="1116.5">QA</tspan><tspan x="1116.5" dy="3.3">Warehouse</tspan><tspan x="1116.5" dy="3.3">personnel send</tspan><tspan x="1116.5" dy="3.3">email notifying</tspan><tspan x="1116.5" dy="3.3">of arrival</tspan><tspan x="1116.5" dy="3.3">of item</tspan><tspan x="1116.5" dy="3.3">1 min</tspan></text></g>
<g id="n54"><rect class="p" x="1140" y="245" width="21" height="21"/><text class="t" x="1150.5" y="251.6"><tspan x="1150.5">Logistics NCO</tspan><tspan x="1150.5" dy="3.3">takes item to</tspan><tspan x="1150.5" dy="3.3">QA Warehouse</tspan><tspan x="1150.5" dy="3.3">30 min</tspan></text></g>
<g id="n55"><rect class="p" x="1173" y="246" width="21" height="19"/><text class="t" x="1183.5" y="251.6"><tspan x="1183.5">Logistics NCO</tspan><tspan x="1183.5" dy="3.3">gets paperwork</tspan><tspan x="1183.5" dy="3.3">from Warehouse</tspan><tspan x="1183.5" dy="3.3">15 min</tspan></text></g>
<g id="n56"><rect class="p" x="1207" y="242" width="21" height="26"/><text class="t" x="1217.5" y="247.8"><tspan x="1217.5">QA</tspan><tspan x="1217.5" dy="3.3">Warehouse</tspan><tspan x="1217.5" dy="3.3">personnel inspect</tspan><tspan x="1217.5" dy="3.3">item for</tspan><tspan x="1217.5" dy="3.3">Logistics NCO</tspan><tspan x="1217.5" dy="3.3">5 min</tspan></text></g>
<g id="n57"><rect class="p" x="1236" y="247" width="21" height="16"/><text class="t" x="1246.5" y="252.7"><tspan x="1246.5">Logistics NCO</tspan><tspan x="1246.5" dy="3.3">stocks item</tspan><tspan x="1246.5" dy="3.3">5 min</tspan></text></g>
<g id="n58"><rect class="p" x="1273" y="247" width="20" height="16"/><text class="t" x="1283" y="252.7"><tspan x="1283">Logistics NCO</tspan><tspan x="1283" dy="3.3">returns to shop</tspan><tspan x="1283" dy="3.3">20 min</tspan></text></g>
<g id="n59"><rect class="p" x="1303" y="244" width="32" height="23"/><text class="t" x="1319" y="249.9"><tspan x="1319">Logistics NCO scans</tspan><tspan x="1319" dy="3.3">documents and saves</tspan><tspan x="1319" dy="3.3">documentation into</tspan><tspan x="1319" dy="3.3">Shop Manager and CS</tspan><tspan x="1319" dy="3.3">Tracking Log 10 min</tspan></text></g>
<g id="d26"><polygon class="d" points="1373,243 1387,255 1373,267 1359,255"/><text class="t w" x="1373" y="252.7"><tspan x="1373">Are items</tspan><tspan x="1373" dy="3.3">correct?</tspan><tspan x="1373" dy="3.3">1 min</tspan></text></g>
<g id="d27"><polygon class="d" points="1416,243 1430,255 1416,267 1402,255"/><text class="t w" x="1416" y="252.7"><tspan x="1416">Is the product</tspan><tspan x="1416" dy="3.3">damaged?</tspan><tspan x="1416" dy="3.3">1 min</tspan></text></g>
<g id="n60"><rect class="p" x="1363" y="280" width="20" height="14"/><text class="t" x="1373" y="284.7"><tspan x="1373">Contact vendor</tspan><tspan x="1373" dy="3.3">for replacement</tspan><tspan x="1373" dy="3.3">10 min</tspan></text></g>
<g id="n61"><rect class="p" x="1406" y="279" width="21" height="16"/><text class="t" x="1416.5" y="284.7"><tspan x="1416.5">Notify customer</tspan><tspan x="1416.5" dy="3.3">item on order</tspan><tspan x="1416.5" dy="3.3">5 min</tspan></text></g>
<g id="n62"><rect class="p" x="1448" y="249" width="22" height="13"/><text class="t" x="1459" y="253.2"><tspan x="1459">Deliver product</tspan><tspan x="1459" dy="3.3">to customer</tspan><tspan x="1459" dy="3.3">5 min</tspan></text></g>
<g id="n63"><rect class="p" x="1483" y="246" width="21" height="17"/><text class="t" x="1493.5" y="252.2"><tspan x="1493.5">Notify customer</tspan><tspan x="1493.5" dy="3.3">item is ready</tspan><tspan x="1493.5" dy="3.3">10 min</tspan></text></g>
<g id="d28"><polygon class="d" points="1525.5,243 1538,255 1525.5,267 1513,255"/><text class="t w" x="1525.5" y="252.7"><tspan x="1525.5">Is customer</tspan><tspan x="1525.5" dy="3.3">satisfied?</tspan><tspan x="1525.5" dy="3.3">1 min</tspan></text></g>
<g id="c4"><circle cx="1526" cy="282" r="4" fill="#c9a3da" stroke="#a47cc0" stroke-width=".6"/></g>
<g id="d29"><polygon class="d" points="1571,243 1585,255 1571,267 1557,255"/><text class="t w" x="1571" y="252.7"><tspan x="1571">Is the item</tspan><tspan x="1571" dy="3.3">correct?</tspan><tspan x="1571" dy="3.3">1 min</tspan></text></g>
<g id="n64"><rect class="p" x="1560" y="280" width="22" height="16"/><text class="t" x="1571" y="285.7"><tspan x="1571">Order all</tspan><tspan x="1571" dy="3.3">required items</tspan><tspan x="1571" dy="3.3">5 min</tspan></text></g>
<g id="n65"><rect class="p" x="1599" y="247" width="22" height="16"/><text class="t" x="1610" y="251"><tspan x="1610">Notify customer</tspan><tspan x="1610" dy="3.3">that the order</tspan><tspan x="1610" dy="3.3">is complete</tspan><tspan x="1610" dy="3.3">5 min</tspan></text></g>
<g id="end3"><rect class="e" x="1642" y="251" width="21" height="8" rx="4"/><text class="t w" x="1652.5" y="256.2" style="font-size:3.4px">End</text></g>

<!-- totals summary -->
<g id="summary-title"><text x="841" y="436" font-family="Liberation Sans, Arial, sans-serif" font-size="36" text-anchor="middle" fill="#111">Current State Total Time</text></g>
<g id="summary-process"><rect x="592" y="498" width="150" height="92" fill="url(#pg)" stroke="#6e7d58" stroke-width="3"/><text class="lg" x="667" y="530" fill="#1a1a1a"><tspan x="667">Process Steps 68</tspan><tspan x="667" dy="19.5">Total time: 20.3</tspan><tspan x="667" dy="19.5">Hours</tspan></text></g>
<g id="summary-decision"><polygon points="885,457 994,544.5 885,632 776,544.5" fill="#a3300f"/><text class="lg" x="885" y="539" fill="#fff"><tspan x="885">Decision Steps: 29</tspan><tspan x="885" dy="20">Total Time:12.5 Hours</tspan></text></g>
<g id="summary-queue"><polygon points="1149,393 1266,620 1029,620" fill="#eeae6b" stroke="#76813f" stroke-width="3"/><text class="lg" x="1146" y="545" fill="#1a1a1a"><tspan x="1146">Que Steps:10</tspan><tspan x="1146" dy="20.5">Total</tspan><tspan x="1146" dy="20.5">Time:11922.4</tspan><tspan x="1146" dy="20.5">Hours</tspan></text></g>
</svg>
